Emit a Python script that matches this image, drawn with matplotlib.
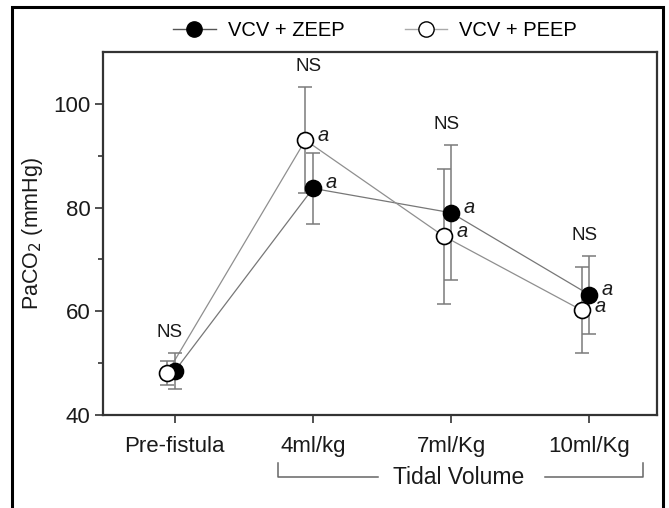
import numpy as np
import matplotlib
matplotlib.use("Agg")
import matplotlib.pyplot as plt
from matplotlib.lines import Line2D
from matplotlib.patches import Rectangle

plt.rcParams['font.family'] = ['Liberation Sans', 'DejaVu Sans']

# data
categories = ['Pre-fistula', '4ml/kg', '7ml/Kg', '10ml/Kg']
zeep_mean = [48.5, 83.7, 79.0, 63.2]
zeep_err = [3.5, 6.8, 13.0, 7.5]
peep_mean = [48.1, 93.0, 74.5, 60.2]
peep_err = [2.3, 10.2, 13.0, 8.3]
ns_labels = ['NS', 'NS', 'NS', 'NS']

fig = plt.figure(figsize=(6.69, 5.08), dpi=100)
ax = fig.add_axes([103 / 669, 1 - 415 / 508, 554 / 669, 363 / 508])

x = np.arange(len(categories))
x_open = x - 0.055

spine_col = '#333333'
err_col = '#7a7a7a'
txt_col = '#1a1a1a'

# connecting lines
ax.plot(x, zeep_mean, color='#777777', lw=0.9, zorder=1)
ax.plot(x_open, peep_mean, color='#8f8f8f', lw=0.9, zorder=1)

# error bars
ax.errorbar(x, zeep_mean, yerr=zeep_err, fmt='none', ecolor=err_col,
            elinewidth=1.1, capsize=5, capthick=1.1, zorder=2)
ax.errorbar(x_open, peep_mean, yerr=peep_err, fmt='none', ecolor=err_col,
            elinewidth=1.1, capsize=5, capthick=1.1, zorder=2)

# markers
ax.plot(x, zeep_mean, 'o', ms=11.5, mfc='black', mec='black', mew=1.2, zorder=3)
ax.plot(x_open, peep_mean, 'o', ms=11.5, mfc='white', mec='black', mew=1.2, zorder=4)

# "a" marks after the tidal volume points
for i in range(1, len(categories)):
    ax.annotate('a', (x[i], zeep_mean[i]), xytext=(9, 4), textcoords='offset points',
                fontsize=14.5, style='italic', ha='left', va='center', color=txt_col)
    ax.annotate('a', (x_open[i], peep_mean[i]), xytext=(9, 3), textcoords='offset points',
                fontsize=14.5, style='italic', ha='left', va='center', color=txt_col)

# NS labels above the bars
for i, lab in enumerate(ns_labels):
    top = max(zeep_mean[i] + zeep_err[i], peep_mean[i] + peep_err[i])
    ax.text(x[i] - 0.035, top + 4, lab, ha='center', va='center', fontsize=13.5,
            color=txt_col)

ax.set_xlim(-0.52, 3.49)
ax.set_ylim(40, 110)
ax.set_yticks([40, 60, 80, 100])
ax.set_yticks([50, 70, 90], minor=True)
ax.set_xticks(x)
ax.set_xticklabels(categories)
ax.tick_params(axis='both', which='major', direction='out', length=6, width=1.2,
               color=spine_col, labelsize=16, pad=3, labelcolor=txt_col)
ax.tick_params(axis='y', which='minor', direction='out', length=3.5, width=1.2,
               color=spine_col)
ax.tick_params(axis='x', pad=9)
for s in ax.spines.values():
    s.set_color(spine_col)
    s.set_linewidth(1.6)

ax.set_ylabel('PaCO$_2$ (mmHg)', fontsize=15.5, color=txt_col, labelpad=6)

# legend at top
handles = [
    Line2D([], [], color='#555555', lw=1.0, marker='o', ms=11, mfc='black', mec='black'),
    Line2D([], [], color='#aaaaaa', lw=1.0, marker='o', ms=11, mfc='white', mec='black'),
]
fig.legend(handles, ['VCV + ZEEP', 'VCV + PEEP'], loc='center', ncol=2,
           bbox_to_anchor=(375 / 669, 1 - 31 / 508), frameon=False, fontsize=14.5,
           handlelength=2.1, columnspacing=3.0, handletextpad=0.6)

# tidal volume bracket under the axis
bc = '#666666'
yb = 1 - 477 / 508
yt = 1 - 463 / 508
fig.add_artist(Line2D([278 / 669, 278 / 669, 378 / 669], [yt, yb, yb], color=bc, lw=1.1))
fig.add_artist(Line2D([545 / 669, 643 / 669, 643 / 669], [yb, yb, yt], color=bc, lw=1.1))
fig.text(459 / 669, yb, 'Tidal Volume', ha='center', va='center', fontsize=16.5,
         color=txt_col)

# outer frame (open at the bottom)
fig.add_artist(Rectangle((12 / 669, -0.05), 651 / 669, 1.05 - 7 / 508,
                         transform=fig.transFigure, fill=False, ec='black', lw=2.2))

fig.savefig('out.png', dpi=100)
